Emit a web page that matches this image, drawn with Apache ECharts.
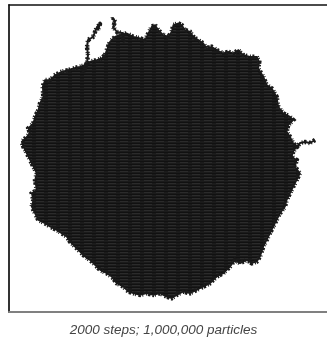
<!DOCTYPE html>
<html><head><meta charset="utf-8">
<script src="https://cdn.jsdelivr.net/npm/echarts@6/dist/echarts.min.js"></script>
<style>html,body{margin:0;padding:0;background:#fff}#c{width:327px;height:340px}</style>
</head><body><div id="c"></div>
<script>
// Outline of the particle cloud (plot units = picture position), read clockwise from the top
const blobX = [106.7,110,115,120,126.7,133.3,140,145,148.3,151.7,155,158.3,163.3,168.3,171.7,173.3,178.3,181.7,185,190,193.3,198.3,203.3,206.7,211.7,216.7,223.3,228.3,233.3,238.3,243.3,250,256.7,259.3,258.3,263.3,266.7,271.7,276.7,278.3,283.3,290,293.3,288.3,286.7,290,293.3,296.7,293.3,291.7,296.7,295,300,296.7,293.3,290,286.7,285,280,276.7,273.3,270,266.7,263.3,260,256.7,251.7,246.7,240,235,230,223.3,216.7,210,203.3,196.7,190,183.3,176.7,171.7,166.7,160,153.3,146.7,140,133.3,128.3,123.3,116.7,111.7,106.7,100,95,90,85,80,75,70,66.7,61.7,56.7,50,45,38.3,35,31.7,33.3,31.7,36.7,35,36.7,33.3,30,26.7,23.3,21.7,26.7,30,28.3,33.3,35,38.3,40,43.3,42.7,45,50,55,61.7,68.3,73.3,80,85,90,96.7,101.7,105];
const blobY = [50,41.7,36.7,35,33.3,36.7,38.3,40,33.3,26.7,25,30,35,36.7,31.7,25,23.3,25,30,31.7,36.7,40,43.3,48.3,46.7,50,53.3,51.7,53.3,50,55,56.7,56.7,61.7,68.3,76.7,85,88.3,96.7,106.7,113.3,116.7,120,125,131.7,136.7,143.3,146.7,151.7,156.7,160,166.7,173.3,180,186.7,193.3,200,206.7,213.3,220,226.7,233.3,240,246.7,256.7,261.7,263.3,260,263.3,260,266.7,273.3,276.7,283.3,286.7,290,293.3,291.7,295,298.3,296.7,293.3,295,293.3,295,293.3,291.7,286.7,283.3,276.7,273.3,270,265,260,256.7,251.7,246.7,241.7,236.7,233.3,230,226.7,223.3,220,213.3,206.7,200,193.3,190,180,173.3,166.7,160,153.3,146.7,141.7,136.7,133.3,128.3,123.3,116.7,110,103.3,96.7,86.7,80,80,75,71.7,70,68.3,66.7,65,61.7,60,58.3,55];
// Loose strands reaching out of the cloud
const strand1X = [83,87,88,87,88,93,95,97,100,102,98];
const strand1Y = [72,63,55,47,40,37,32,27,24,26,30];
const strand2X = [125,123,122,117,113,115,113,112];
const strand2Y = [42,38,33,32,27,22,18,20];
const strand3X = [293,297,300,305,310,315];
const strand3Y = [148,147,143,142,143,140];
const caption = '2000 steps; 1,000,000 particles';

const chart = echarts.init(document.getElementById('c'));
// striped fill like the dense overlapping paths
const pc = document.createElement('canvas'); pc.width = 12; pc.height = 3;
const g = pc.getContext('2d');
g.fillStyle = '#1b1b1b'; g.fillRect(0,0,12,3);
g.fillStyle = '#2b2b2b'; g.fillRect(0,0,8,1);
g.fillStyle = '#111111'; g.fillRect(0,2,12,1);

const rough = [1,2,2.5,1,1.5,3,1,1.5,2,2.5,1,1];
const pts = blobX.map((x,i)=>[x, blobY[i]]);
const strand = (xs,ys,w,dash)=>({type:'line', data: xs.map((x,i)=>[x,ys[i]]), symbol:'none', silent:true,
  lineStyle:{color:'#1a1a1a', width:w, join:'round', type: dash || 'solid'}, z:3});
chart.setOption({
  animation:false,
  grid:{left:9, right:0, top:5, bottom:28},
  title:{text:caption, left:'center', top:318, textStyle:{fontFamily:'Liberation Sans', fontStyle:'italic', fontWeight:'normal', fontSize:13.5, color:'#444'}},
  xAxis:[
    {type:'value', min:9, max:327, position:'bottom', axisLine:{show:true, lineStyle:{color:'#808080', width:2}}, axisTick:{show:false}, axisLabel:{show:false}, splitLine:{show:false}},
    {type:'value', min:9, max:327, position:'top', axisLine:{show:true, lineStyle:{color:'#111', width:1.5}}, axisTick:{show:false}, axisLabel:{show:false}, splitLine:{show:false}}
  ],
  yAxis:{type:'value', min:5, max:312, inverse:true, axisLine:{show:true, lineStyle:{color:'#333', width:2}}, axisTick:{show:false}, axisLabel:{show:false}, splitLine:{show:false}},
  series:[
    {type:'custom', data:[0], silent:true, z:2,
      renderItem:(params, api)=>{
        const p = pts.map(q=>api.coord(q));
        return {type:'group', children:[
          {type:'polygon', shape:{points:p}, style:{fill:{image:pc, repeat:'repeat'}, stroke:'#1a1a1a', lineWidth:1.5}},
          {type:'polygon', shape:{points:p}, style:{fill:null, stroke:'#1a1a1a', lineWidth:4.5, lineDash:rough, lineJoin:'miter'}}
        ]};
      }},
    strand(strand1X,strand1Y,2), strand(strand2X,strand2Y,2), strand(strand3X,strand3Y,2),
    strand(strand1X,strand1Y,4.5,rough), strand(strand2X,strand2Y,4.5,rough), strand(strand3X,strand3Y,4.5,rough)
  ]
});
</script></body></html>
